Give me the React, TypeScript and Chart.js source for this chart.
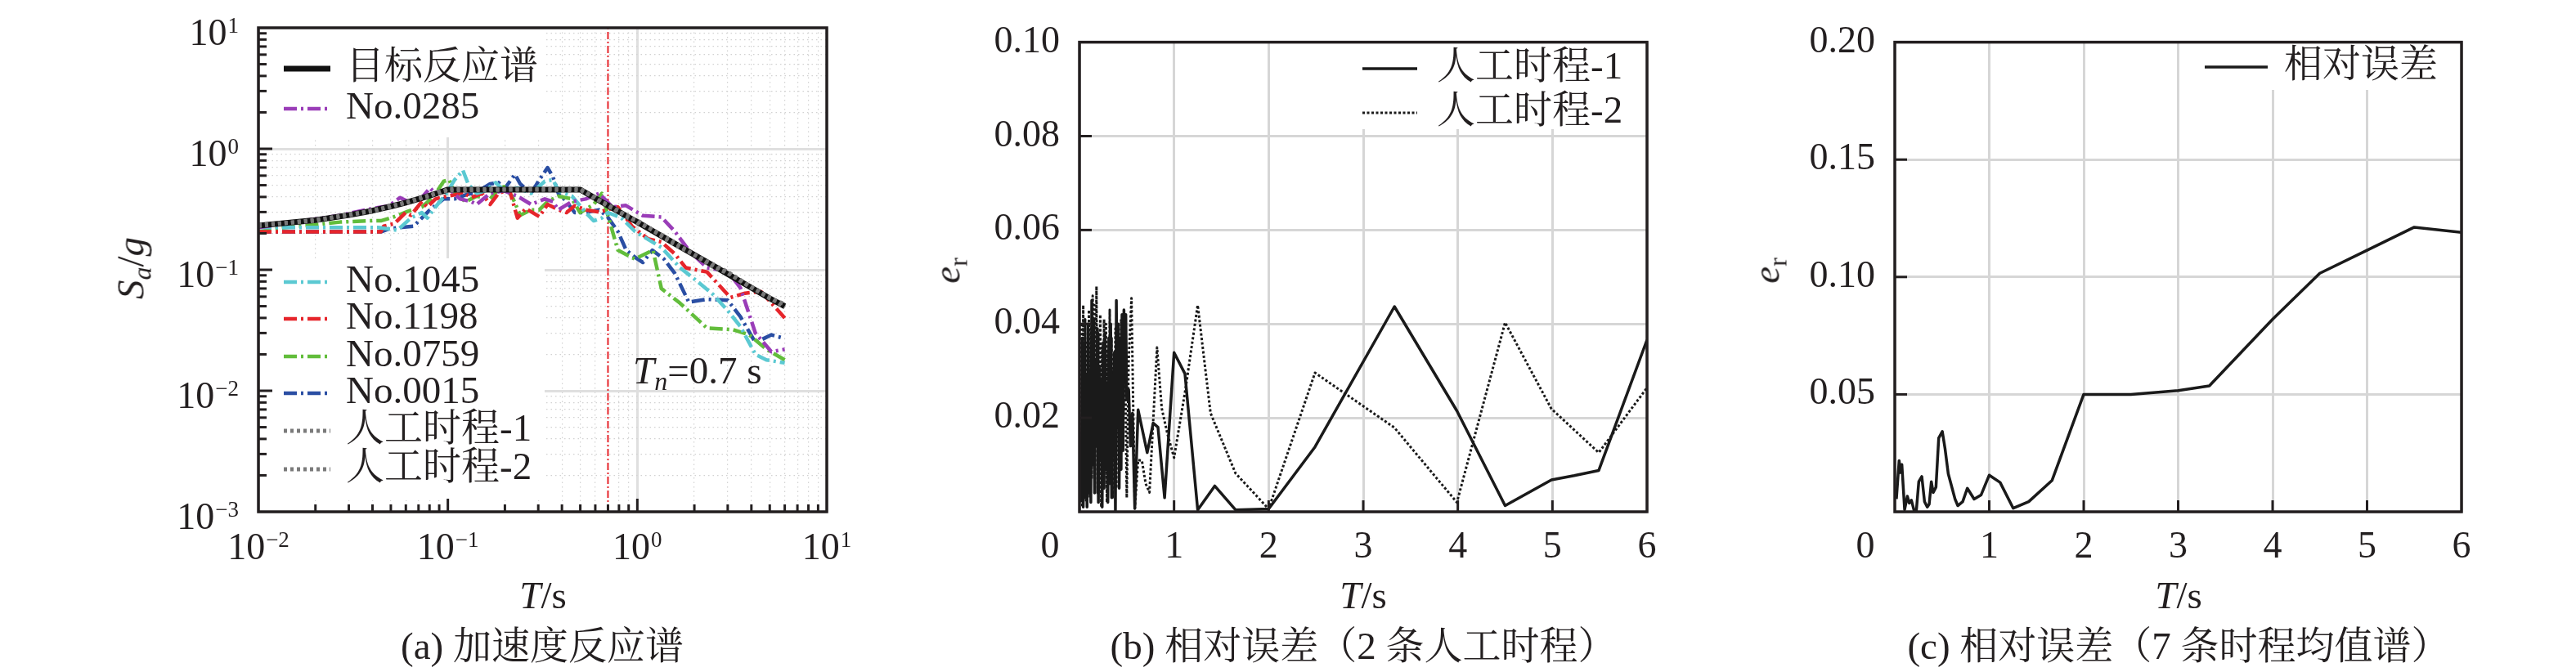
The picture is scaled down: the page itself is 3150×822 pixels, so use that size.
import React, { useEffect, useRef } from "react";
import { Chart, registerables } from "chart.js";

Chart.register(...registerables);

const SERIF = "'Liberation Serif', 'Noto Serif CJK SC', 'Noto Sans CJK SC', serif";
const INK = "#231f20";
const H = 822;

// ---------------- (a) acceleration response spectra ----------------
const SA_MIN = 0.001;
const SA_MAX = 10;
const T_MIN_LOG = 0.01;
const T_MAX_LOG = 10;
const TN = 0.7;

const TARGET_T = [0.01, 0.02, 0.03, 0.04, 0.05, 0.06, 0.07, 0.08, 0.09, 0.1, 0.5, 0.6, 0.7, 0.8, 0.9, 1.0, 1.2, 1.5, 2.0, 2.5, 3.0, 4.0, 5.0, 6.0];
const TARGET_SA = [0.232, 0.257, 0.283, 0.308, 0.334, 0.359, 0.385, 0.41, 0.435, 0.46, 0.46, 0.39, 0.34, 0.302, 0.272, 0.248, 0.21, 0.172, 0.133, 0.109, 0.092, 0.071, 0.058, 0.05];
const ART1_SA = [0.23, 0.259, 0.281, 0.311, 0.331, 0.362, 0.381, 0.416, 0.43, 0.466, 0.455, 0.396, 0.335, 0.308, 0.268, 0.256, 0.213, 0.168, 0.133, 0.111, 0.096, 0.072, 0.058, 0.052];
const ART2_SA = [0.235, 0.254, 0.288, 0.303, 0.339, 0.355, 0.392, 0.404, 0.442, 0.452, 0.468, 0.385, 0.345, 0.298, 0.278, 0.245, 0.215, 0.176, 0.133, 0.106, 0.094, 0.071, 0.059, 0.049];

const R0285_T = [0.01, 0.0139, 0.0194, 0.027, 0.0401, 0.0489, 0.0559, 0.0617, 0.0729, 0.0805, 0.086, 0.1017, 0.116, 0.1326, 0.142, 0.167, 0.198, 0.233, 0.275, 0.325, 0.359, 0.383, 0.452, 0.534, 0.629, 0.74, 0.87, 1.07, 1.34, 1.58, 1.87, 2.33, 3.0, 3.5, 4.2, 5.1, 6.0];
const R0285_SA = [0.224, 0.241, 0.261, 0.282, 0.321, 0.338, 0.395, 0.366, 0.395, 0.474, 0.428, 0.462, 0.385, 0.366, 0.347, 0.428, 0.45, 0.406, 0.347, 0.385, 0.366, 0.313, 0.366, 0.385, 0.428, 0.33, 0.34, 0.28, 0.273, 0.207, 0.145, 0.104, 0.097, 0.071, 0.03, 0.021, 0.022];

const R1045_T = [0.01, 0.0428, 0.0541, 0.0638, 0.0729, 0.0779, 0.086, 0.0983, 0.1086, 0.12, 0.128, 0.142, 0.157, 0.179, 0.198, 0.233, 0.275, 0.325, 0.359, 0.383, 0.452, 0.534, 0.589, 0.65, 0.7, 0.825, 0.973, 1.34, 1.68, 1.98, 2.5, 3.0, 3.5, 4.2, 4.8, 6.0];
const R1045_SA = [0.224, 0.224, 0.212, 0.268, 0.297, 0.268, 0.33, 0.428, 0.554, 0.664, 0.512, 0.428, 0.45, 0.526, 0.45, 0.474, 0.428, 0.539, 0.554, 0.45, 0.406, 0.297, 0.254, 0.268, 0.297, 0.268, 0.207, 0.153, 0.104, 0.085, 0.063, 0.046, 0.034, 0.02, 0.018, 0.017];

const R1198_T = [0.01, 0.0443, 0.0458, 0.0523, 0.0598, 0.0638, 0.0729, 0.0779, 0.086, 0.0983, 0.1086, 0.12, 0.1326, 0.1515, 0.167, 0.185, 0.211, 0.233, 0.258, 0.304, 0.336, 0.383, 0.423, 0.467, 0.534, 0.629, 0.79, 0.94, 1.14, 1.34, 1.58, 1.8, 2.33, 3.1, 3.7, 4.5, 6.0];
const R1198_SA = [0.206, 0.206, 0.229, 0.241, 0.297, 0.282, 0.366, 0.33, 0.385, 0.406, 0.416, 0.438, 0.395, 0.428, 0.347, 0.428, 0.462, 0.268, 0.321, 0.275, 0.347, 0.313, 0.297, 0.338, 0.313, 0.3, 0.33, 0.228, 0.18, 0.17, 0.135, 0.104, 0.096, 0.059, 0.064, 0.066, 0.04];

const R0759_T = [0.01, 0.0139, 0.0194, 0.027, 0.0376, 0.0443, 0.0523, 0.0617, 0.0729, 0.0832, 0.0951, 0.1017, 0.1086, 0.124, 0.142, 0.167, 0.185, 0.198, 0.218, 0.241, 0.275, 0.304, 0.336, 0.383, 0.452, 0.499, 0.589, 0.65, 0.7, 0.79, 0.97, 1.21, 1.34, 1.68, 2.33, 3.2, 3.9, 4.8, 6.0];
const R0759_SA = [0.206, 0.224, 0.235, 0.248, 0.254, 0.254, 0.275, 0.305, 0.33, 0.395, 0.539, 0.554, 0.428, 0.366, 0.406, 0.385, 0.462, 0.486, 0.406, 0.282, 0.313, 0.313, 0.366, 0.406, 0.385, 0.297, 0.347, 0.428, 0.28, 0.145, 0.123, 0.145, 0.07, 0.053, 0.033, 0.032, 0.029, 0.022, 0.018];

const R0015_T = [0.01, 0.0443, 0.0489, 0.0559, 0.066, 0.0729, 0.0805, 0.0951, 0.1086, 0.124, 0.142, 0.167, 0.185, 0.198, 0.226, 0.241, 0.275, 0.304, 0.336, 0.359, 0.383, 0.423, 0.467, 0.534, 0.629, 0.695, 0.79, 0.874, 1.0, 1.07, 1.2, 1.38, 1.58, 1.87, 2.33, 3.0, 3.5, 4.2, 5.1, 6.0];
const R0015_SA = [0.206, 0.206, 0.218, 0.224, 0.229, 0.268, 0.313, 0.385, 0.385, 0.416, 0.438, 0.512, 0.526, 0.462, 0.614, 0.512, 0.428, 0.554, 0.699, 0.583, 0.428, 0.366, 0.297, 0.297, 0.313, 0.275, 0.207, 0.145, 0.123, 0.115, 0.145, 0.123, 0.093, 0.054, 0.057, 0.056, 0.041, 0.025, 0.029, 0.027];

const LOG_MANTISSAS = [1, 2, 3, 4, 5, 6, 7, 8, 9];

// ---------------- (b) relative error, 2 artificial records ----------------
const B1_T = [0.02, 0.03, 0.04, 0.05, 0.06, 0.07, 0.08, 0.09, 0.1, 0.11, 0.12, 0.13, 0.14, 0.15, 0.16, 0.17, 0.18, 0.19, 0.2, 0.21, 0.22, 0.23, 0.24, 0.25, 0.26, 0.27, 0.28, 0.29, 0.3, 0.31, 0.32, 0.33, 0.34, 0.35, 0.36, 0.37, 0.38, 0.39, 0.4, 0.41, 0.42, 0.43, 0.44, 0.45, 0.46, 0.47, 0.48, 0.49, 0.5, 0.52, 0.54, 0.56, 0.585, 0.62, 0.716, 0.78, 0.83, 0.9, 1.0, 1.115, 1.25, 1.43, 1.65, 2.0, 2.49, 3.33, 3.99, 4.5, 4.99, 5.23, 5.49, 6.0];
const B1_E = [0.002, 0.037, 0.001, 0.036, 0.003, 0.029, 0.001, 0.04, 0.004, 0.03, 0.002, 0.045, 0.01, 0.041, 0.004, 0.032, 0.014, 0.039, 0.002, 0.031, 0.011, 0.028, 0.001, 0.036, 0.005, 0.038, 0.009, 0.027, 0.002, 0.037, 0.006, 0.04, 0.003, 0.029, 0.012, 0.034, 0.0, 0.045, 0.018, 0.04, 0.005, 0.037, 0.009, 0.042, 0.013, 0.043, 0.031, 0.042, 0.024, 0.026, 0.014, 0.021, 0.0007, 0.0217, 0.0126, 0.0189, 0.018, 0.003, 0.0339, 0.0294, 0.0004, 0.0055, 0.0004, 0.0006, 0.0138, 0.0437, 0.0215, 0.0013, 0.0068, 0.0077, 0.0088, 0.0366];
const B2_T = [0.02, 0.03, 0.04, 0.05, 0.06, 0.07, 0.08, 0.09, 0.1, 0.11, 0.12, 0.13, 0.14, 0.15, 0.16, 0.17, 0.18, 0.19, 0.2, 0.21, 0.22, 0.23, 0.24, 0.25, 0.26, 0.27, 0.28, 0.29, 0.3, 0.31, 0.32, 0.33, 0.34, 0.35, 0.36, 0.37, 0.38, 0.39, 0.4, 0.42, 0.44, 0.46, 0.48, 0.5, 0.52, 0.55, 0.585, 0.62, 0.66, 0.7, 0.74, 0.82, 0.87, 0.93, 1.0, 1.12, 1.25, 1.386, 1.65, 2.0, 2.49, 3.33, 3.99, 4.5, 4.99, 5.49, 6.0];
const B2_E = [0.04, 0.001, 0.044, 0.004, 0.041, 0.002, 0.036, 0.011, 0.043, 0.003, 0.039, 0.007, 0.046, 0.012, 0.044, 0.02, 0.048, 0.004, 0.038, 0.009, 0.042, 0.001, 0.035, 0.006, 0.041, 0.015, 0.04, 0.002, 0.034, 0.008, 0.043, 0.012, 0.037, 0.003, 0.03, 0.011, 0.039, 0.005, 0.033, 0.009, 0.041, 0.017, 0.036, 0.003, 0.032, 0.0455, 0.0007, 0.011, 0.0109, 0.006, 0.0041, 0.035, 0.022, 0.0166, 0.0115, 0.026, 0.044, 0.021, 0.0082, 0.0006, 0.0296, 0.0179, 0.002, 0.0403, 0.0219, 0.0126, 0.0264];

// ---------------- (c) relative error of 7-record mean spectrum ----------------
const C_T = [0.017, 0.046, 0.06, 0.075, 0.104, 0.133, 0.153, 0.176, 0.205, 0.228, 0.254, 0.286, 0.315, 0.344, 0.364, 0.387, 0.407, 0.436, 0.465, 0.503, 0.532, 0.566, 0.638, 0.667, 0.719, 0.768, 0.84, 0.913, 1.0, 1.115, 1.254, 1.418, 1.664, 2.0, 2.5, 3.0, 3.33, 4.0, 4.5, 5.0, 5.5, 6.0];
const C_E = [0.0054, 0.0218, 0.0167, 0.0201, 0.0009, 0.0066, 0.0037, 0.0049, 0.0004, 0.0004, 0.0128, 0.015, 0.0043, 0.002, 0.0032, 0.0128, 0.0082, 0.0105, 0.0314, 0.0342, 0.0269, 0.0162, 0.0054, 0.0026, 0.0043, 0.01, 0.0054, 0.0071, 0.0156, 0.0125, 0.0015, 0.0043, 0.0133, 0.05, 0.05, 0.0516, 0.0536, 0.082, 0.1016, 0.1114, 0.1212, 0.119];

const T_LIN_MAX = 6;
const B_E_MAX = 0.1;
const B_E_STEP = 0.02;
const C_E_MAX = 0.2;
const C_E_STEP = 0.05;

// ---------------- styles ----------------
const PURPLE = "#9a3db8";
const CYAN = "#5bc9d2";
const RED = "#e6252b";
const GREEN = "#62bd3b";
const BLUE = "#2a4ea3";
const GRAY = "#7a7a7a";
const DASHDOT = [16, 5, 3, 5];
const LIN_GRID = "#d6d6d6";

const pts = (xs: number[], ys: number[]) => xs.map((x, i) => ({ x, y: ys[i] }));

function logTicks(minExp: number, maxExp: number) {
  const out: { value: number; major: boolean }[] = [];
  for (let e = minExp; e < maxExp; e++) {
    for (const m of LOG_MANTISSAS) out.push({ value: m * Math.pow(10, e), major: m === 1 });
  }
  out.push({ value: Math.pow(10, maxExp), major: true });
  return out;
}

function drawPow(ctx: CanvasRenderingContext2D, exp: number, x: number, yBase: number, align: "right" | "center") {
  const base = "10";
  const e = exp < 0 ? "\u2212" + String(-exp) : String(exp);
  ctx.font = `46px ${SERIF}`;
  const wb = ctx.measureText(base).width;
  ctx.font = `27px ${SERIF}`;
  const we = ctx.measureText(e).width;
  const total = wb + 1 + we;
  const sx = align === "right" ? x - total : x - total / 2;
  ctx.textAlign = "left";
  ctx.textBaseline = "alphabetic";
  ctx.fillStyle = INK;
  ctx.font = `46px ${SERIF}`;
  ctx.fillText(base, sx, yBase);
  ctx.font = `27px ${SERIF}`;
  ctx.fillText(e, sx + wb + 1, yBase - 15);
}

type Row = { ds: number; y: number };
type Deco = {
  kind: "log" | "lin";
  boxes: number[][];
  sx0: number;
  sx1: number;
  tx: number;
  rows: Row[];
  zero: boolean;
};

function makeDeco(o: Deco) {
  return {
    id: "deco",
    beforeDatasetsDraw(chart: any) {
      const ctx = chart.ctx as CanvasRenderingContext2D;
      ctx.save();
      ctx.fillStyle = "#ffffff";
      o.boxes.forEach(([x0, y0, x1, y1]) => ctx.fillRect(x0, y0, x1 - x0, y1 - y0));
      ctx.restore();
    },
    afterDraw(chart: any) {
      const ctx = chart.ctx as CanvasRenderingContext2D;
      const a = chart.chartArea;
      const xs = chart.scales.x;
      const ys = chart.scales.y;
      ctx.save();
      ctx.strokeStyle = INK;
      ctx.lineWidth = 3;
      ctx.setLineDash([]);
      xs.ticks.forEach((t: any) => {
        const px = xs.getPixelForValue(t.value);
        if (px <= a.left + 2 || px >= a.right - 2) return;
        const len = o.kind === "log" ? (t.major ? 16 : 9) : 14;
        ctx.beginPath();
        ctx.moveTo(px, a.bottom);
        ctx.lineTo(px, a.bottom - len);
        ctx.stroke();
      });
      ys.ticks.forEach((t: any) => {
        const py = ys.getPixelForValue(t.value);
        if (py <= a.top + 2 || py >= a.bottom - 2) return;
        const len = o.kind === "log" ? (t.major ? 17 : 10) : 15;
        ctx.beginPath();
        ctx.moveTo(a.left, py);
        ctx.lineTo(a.left + len, py);
        ctx.stroke();
      });
      ctx.lineWidth = 3.5;
      ctx.strokeRect(a.left, a.top, a.right - a.left, a.bottom - a.top);

      if (o.kind === "log") {
        ys.ticks.filter((t: any) => t.major).forEach((t: any) => {
          drawPow(ctx, Math.round(Math.log10(t.value)), a.left - 24, ys.getPixelForValue(t.value) + 21, "right");
        });
        xs.ticks.filter((t: any) => t.major).forEach((t: any) => {
          drawPow(ctx, Math.round(Math.log10(t.value)), xs.getPixelForValue(t.value), a.bottom + 58, "center");
        });
      }
      if (o.zero) {
        ctx.fillStyle = INK;
        ctx.font = `46px ${SERIF}`;
        ctx.textAlign = "center";
        ctx.textBaseline = "middle";
        ctx.fillText("0", xs.getPixelForValue(0) - 36, a.bottom + 44);
      }
      o.rows.forEach((r) => {
        const ds = chart.data.datasets[r.ds];
        ctx.save();
        ctx.strokeStyle = ds.borderColor;
        ctx.lineWidth = ds.borderWidth;
        ctx.setLineDash(ds.borderDash || []);
        ctx.lineCap = "butt";
        ctx.beginPath();
        ctx.moveTo(o.sx0, r.y);
        ctx.lineTo(o.sx1, r.y);
        ctx.stroke();
        ctx.restore();
        ctx.fillStyle = INK;
        ctx.font = `47px ${SERIF}`;
        ctx.textAlign = "left";
        ctx.textBaseline = "middle";
        ctx.fillText(ds.label, o.tx, r.y);
      });
      ctx.restore();
    },
  };
}

function baseOptions(pad: { left: number; right: number; top: number; bottom: number }) {
  return {
    responsive: false,
    maintainAspectRatio: false,
    animation: false,
    devicePixelRatio: 1,
    events: [],
    layout: { padding: pad },
    plugins: { legend: { display: false }, tooltip: { enabled: false }, title: { display: false } },
    elements: { point: { radius: 0 }, line: { tension: 0, fill: false, borderJoinStyle: "round" } },
  };
}

const logGrid = {
  color: (c: any) => (c.tick && c.tick.major ? "#dfdfdf" : "#d2d2d2"),
  lineWidth: (c: any) => (c.tick && c.tick.major ? 3 : 1.2),
  drawTicks: false,
};
const logBorder = { display: false, dash: (c: any) => (c.tick && !c.tick.major ? [1.5, 4] : []) };

function makeA() {
  return {
    type: "line",
    data: {
      datasets: [
        { label: "目标反应谱", data: pts(TARGET_T, TARGET_SA), borderColor: "#111111", borderWidth: 7, order: 1 },
        { label: "No.0285", data: pts(R0285_T, R0285_SA), borderColor: PURPLE, borderWidth: 4.5, borderDash: DASHDOT, order: 2 },
        { label: "No.1045", data: pts(R1045_T, R1045_SA), borderColor: CYAN, borderWidth: 4.5, borderDash: DASHDOT, order: 2 },
        { label: "No.1198", data: pts(R1198_T, R1198_SA), borderColor: RED, borderWidth: 4.5, borderDash: DASHDOT, order: 2 },
        { label: "No.0759", data: pts(R0759_T, R0759_SA), borderColor: GREEN, borderWidth: 4.5, borderDash: DASHDOT, order: 2 },
        { label: "No.0015", data: pts(R0015_T, R0015_SA), borderColor: BLUE, borderWidth: 4.5, borderDash: DASHDOT, order: 2 },
        { label: "人工时程-1", data: pts(TARGET_T, ART1_SA), borderColor: GRAY, borderWidth: 5, borderDash: [4, 4], order: 0 },
        { label: "人工时程-2", data: pts(TARGET_T, ART2_SA), borderColor: GRAY, borderWidth: 5, borderDash: [4, 4], order: 0 },
        { label: "Tn", data: [{ x: TN, y: SA_MIN }, { x: TN, y: SA_MAX }], borderColor: RED, borderWidth: 2, borderDash: [9, 3, 2, 3], order: 3 },
      ],
    },
    options: {
      ...baseOptions({ left: 0, right: 39, top: 34, bottom: 0 }),
      scales: {
        x: {
          type: "logarithmic",
          min: T_MIN_LOG,
          max: T_MAX_LOG,
          afterBuildTicks: (s: any) => { s.ticks = logTicks(-2, 1); },
          afterFit: (s: any) => { s.height = H - 626; },
          ticks: { display: false, autoSkip: false },
          grid: logGrid,
          border: logBorder,
        },
        y: {
          type: "logarithmic",
          min: SA_MIN,
          max: SA_MAX,
          afterBuildTicks: (s: any) => { s.ticks = logTicks(-3, 1); },
          afterFit: (s: any) => { s.width = 316; },
          ticks: { display: false, autoSkip: false },
          grid: logGrid,
          border: logBorder,
        },
      },
    },
    plugins: [
      makeDeco({
        kind: "log",
        boxes: [[318, 36, 666, 168], [318, 316, 666, 612]],
        sx0: 347,
        sx1: 404,
        tx: 423,
        rows: [
          { ds: 0, y: 84 },
          { ds: 1, y: 133 },
          { ds: 2, y: 345 },
          { ds: 3, y: 390 },
          { ds: 4, y: 436 },
          { ds: 5, y: 481 },
          { ds: 6, y: 527 },
          { ds: 7, y: 574 },
        ],
        zero: false,
      }),
    ],
  };
}

function linScales(yMax: number, yStep: number, yWidth: number) {
  const font = { family: SERIF, size: 46 };
  return {
    x: {
      type: "linear",
      min: 0,
      max: T_LIN_MAX,
      afterFit: (s: any) => { s.height = H - 626; },
      ticks: { stepSize: 1, autoSkip: false, maxRotation: 0, padding: 16, color: INK, font, callback: (v: any) => (Number(v) === 0 ? "" : String(v)) },
      grid: { color: LIN_GRID, lineWidth: 3, drawTicks: false },
      border: { display: false },
    },
    y: {
      type: "linear",
      min: 0,
      max: yMax,
      afterFit: (s: any) => { s.width = yWidth; },
      ticks: { stepSize: yStep, autoSkip: false, padding: 24, color: INK, font, callback: (v: any) => (Number(v) === 0 ? "" : Number(v).toFixed(2)) },
      grid: { color: LIN_GRID, lineWidth: 3, drawTicks: false },
      border: { display: false },
    },
  };
}

function makeB() {
  return {
    type: "line",
    data: {
      datasets: [
        { label: "人工时程-1", data: pts(B1_T, B1_E), borderColor: "#1a1a1a", borderWidth: 3.5, order: 0 },
        { label: "人工时程-2", data: pts(B2_T, B2_E), borderColor: "#1a1a1a", borderWidth: 3, borderDash: [3, 2.5], order: 1 },
      ],
    },
    options: {
      ...baseOptions({ left: 0, right: 1050 - 964, top: 34, bottom: 0 }),
      scales: linScales(B_E_MAX, B_E_STEP, 270),
    },
    plugins: [
      makeDeco({
        kind: "lin",
        boxes: [[605, 36, 962, 158]],
        sx0: 616,
        sx1: 683,
        tx: 707,
        rows: [{ ds: 0, y: 84 }, { ds: 1, y: 138 }],
        zero: true,
      }),
    ],
  };
}

function makeC() {
  return {
    type: "line",
    data: {
      datasets: [{ label: "相对误差", data: pts(C_T, C_E), borderColor: "#1a1a1a", borderWidth: 3.5 }],
    },
    options: {
      ...baseOptions({ left: 0, right: 1050 - 910, top: 35, bottom: 0 }),
      scales: linScales(C_E_MAX, C_E_STEP, 217),
    },
    plugins: [
      makeDeco({
        kind: "lin",
        boxes: [[580, 37, 908, 110]],
        sx0: 596,
        sx1: 673,
        tx: 693,
        rows: [{ ds: 0, y: 82 }],
        zero: true,
      }),
    ],
  };
}

function ChartPanel({ left, width, make }: { left: number; width: number; make: () => any }) {
  const ref = useRef<HTMLCanvasElement | null>(null);
  useEffect(() => {
    if (!ref.current) return;
    const chart = new Chart(ref.current, make());
    return () => chart.destroy();
  }, [make]);
  return <canvas ref={ref} width={width} height={H} style={{ position: "absolute", left, top: 0, width, height: H }} />;
}

const textBase: React.CSSProperties = {
  position: "absolute",
  fontFamily: SERIF,
  fontSize: 47,
  lineHeight: 1,
  whiteSpace: "nowrap",
  color: INK,
};

function Centered({ x, y, rotate, children }: { x: number; y: number; rotate?: boolean; children: React.ReactNode }) {
  return (
    <div style={{ ...textBase, left: x, top: y, transform: rotate ? "translate(-50%, -50%) rotate(-90deg)" : "translate(-50%, -50%)" }}>
      {children}
    </div>
  );
}

const subStyle: React.CSSProperties = { fontSize: "0.68em", verticalAlign: "-0.28em", lineHeight: 0 };

export default function App() {
  return (
    <div style={{ position: "absolute", left: 0, top: 0, width: 3150, height: H, background: "#ffffff", overflow: "hidden" }}>
      <ChartPanel left={0} width={1050} make={makeA} />
      <ChartPanel left={1050} width={1050} make={makeB} />
      <ChartPanel left={2100} width={1050} make={makeC} />

      {/* (a) */}
      <Centered x={160} y={328} rotate>
        <i>S</i>
        <sub style={subStyle}><i>a</i></sub>/<i>g</i>
      </Centered>
      <Centered x={664} y={728}>
        <i>T</i>/s
      </Centered>
      <Centered x={663} y={790}>(a) 加速度反应谱</Centered>
      <div style={{ ...textBase, left: 774, top: 453, transform: "translateY(-50%)" }}>
        <i>T</i>
        <sub style={subStyle}><i>n</i></sub>=0.7 s
      </div>

      {/* (b) */}
      <Centered x={1158} y={331} rotate>
        <i>e</i>
        <sub style={subStyle}>r</sub>
      </Centered>
      <Centered x={1667} y={728}>
        <i>T</i>/s
      </Centered>
      <Centered x={1667} y={790}>(b) 相对误差（2 条人工时程）</Centered>

      {/* (c) */}
      <Centered x={2160} y={331} rotate>
        <i>e</i>
        <sub style={subStyle}>r</sub>
      </Centered>
      <Centered x={2664} y={728}>
        <i>T</i>/s
      </Centered>
      <Centered x={2664} y={790}>(c) 相对误差（7 条时程均值谱）</Centered>
    </div>
  );
}
